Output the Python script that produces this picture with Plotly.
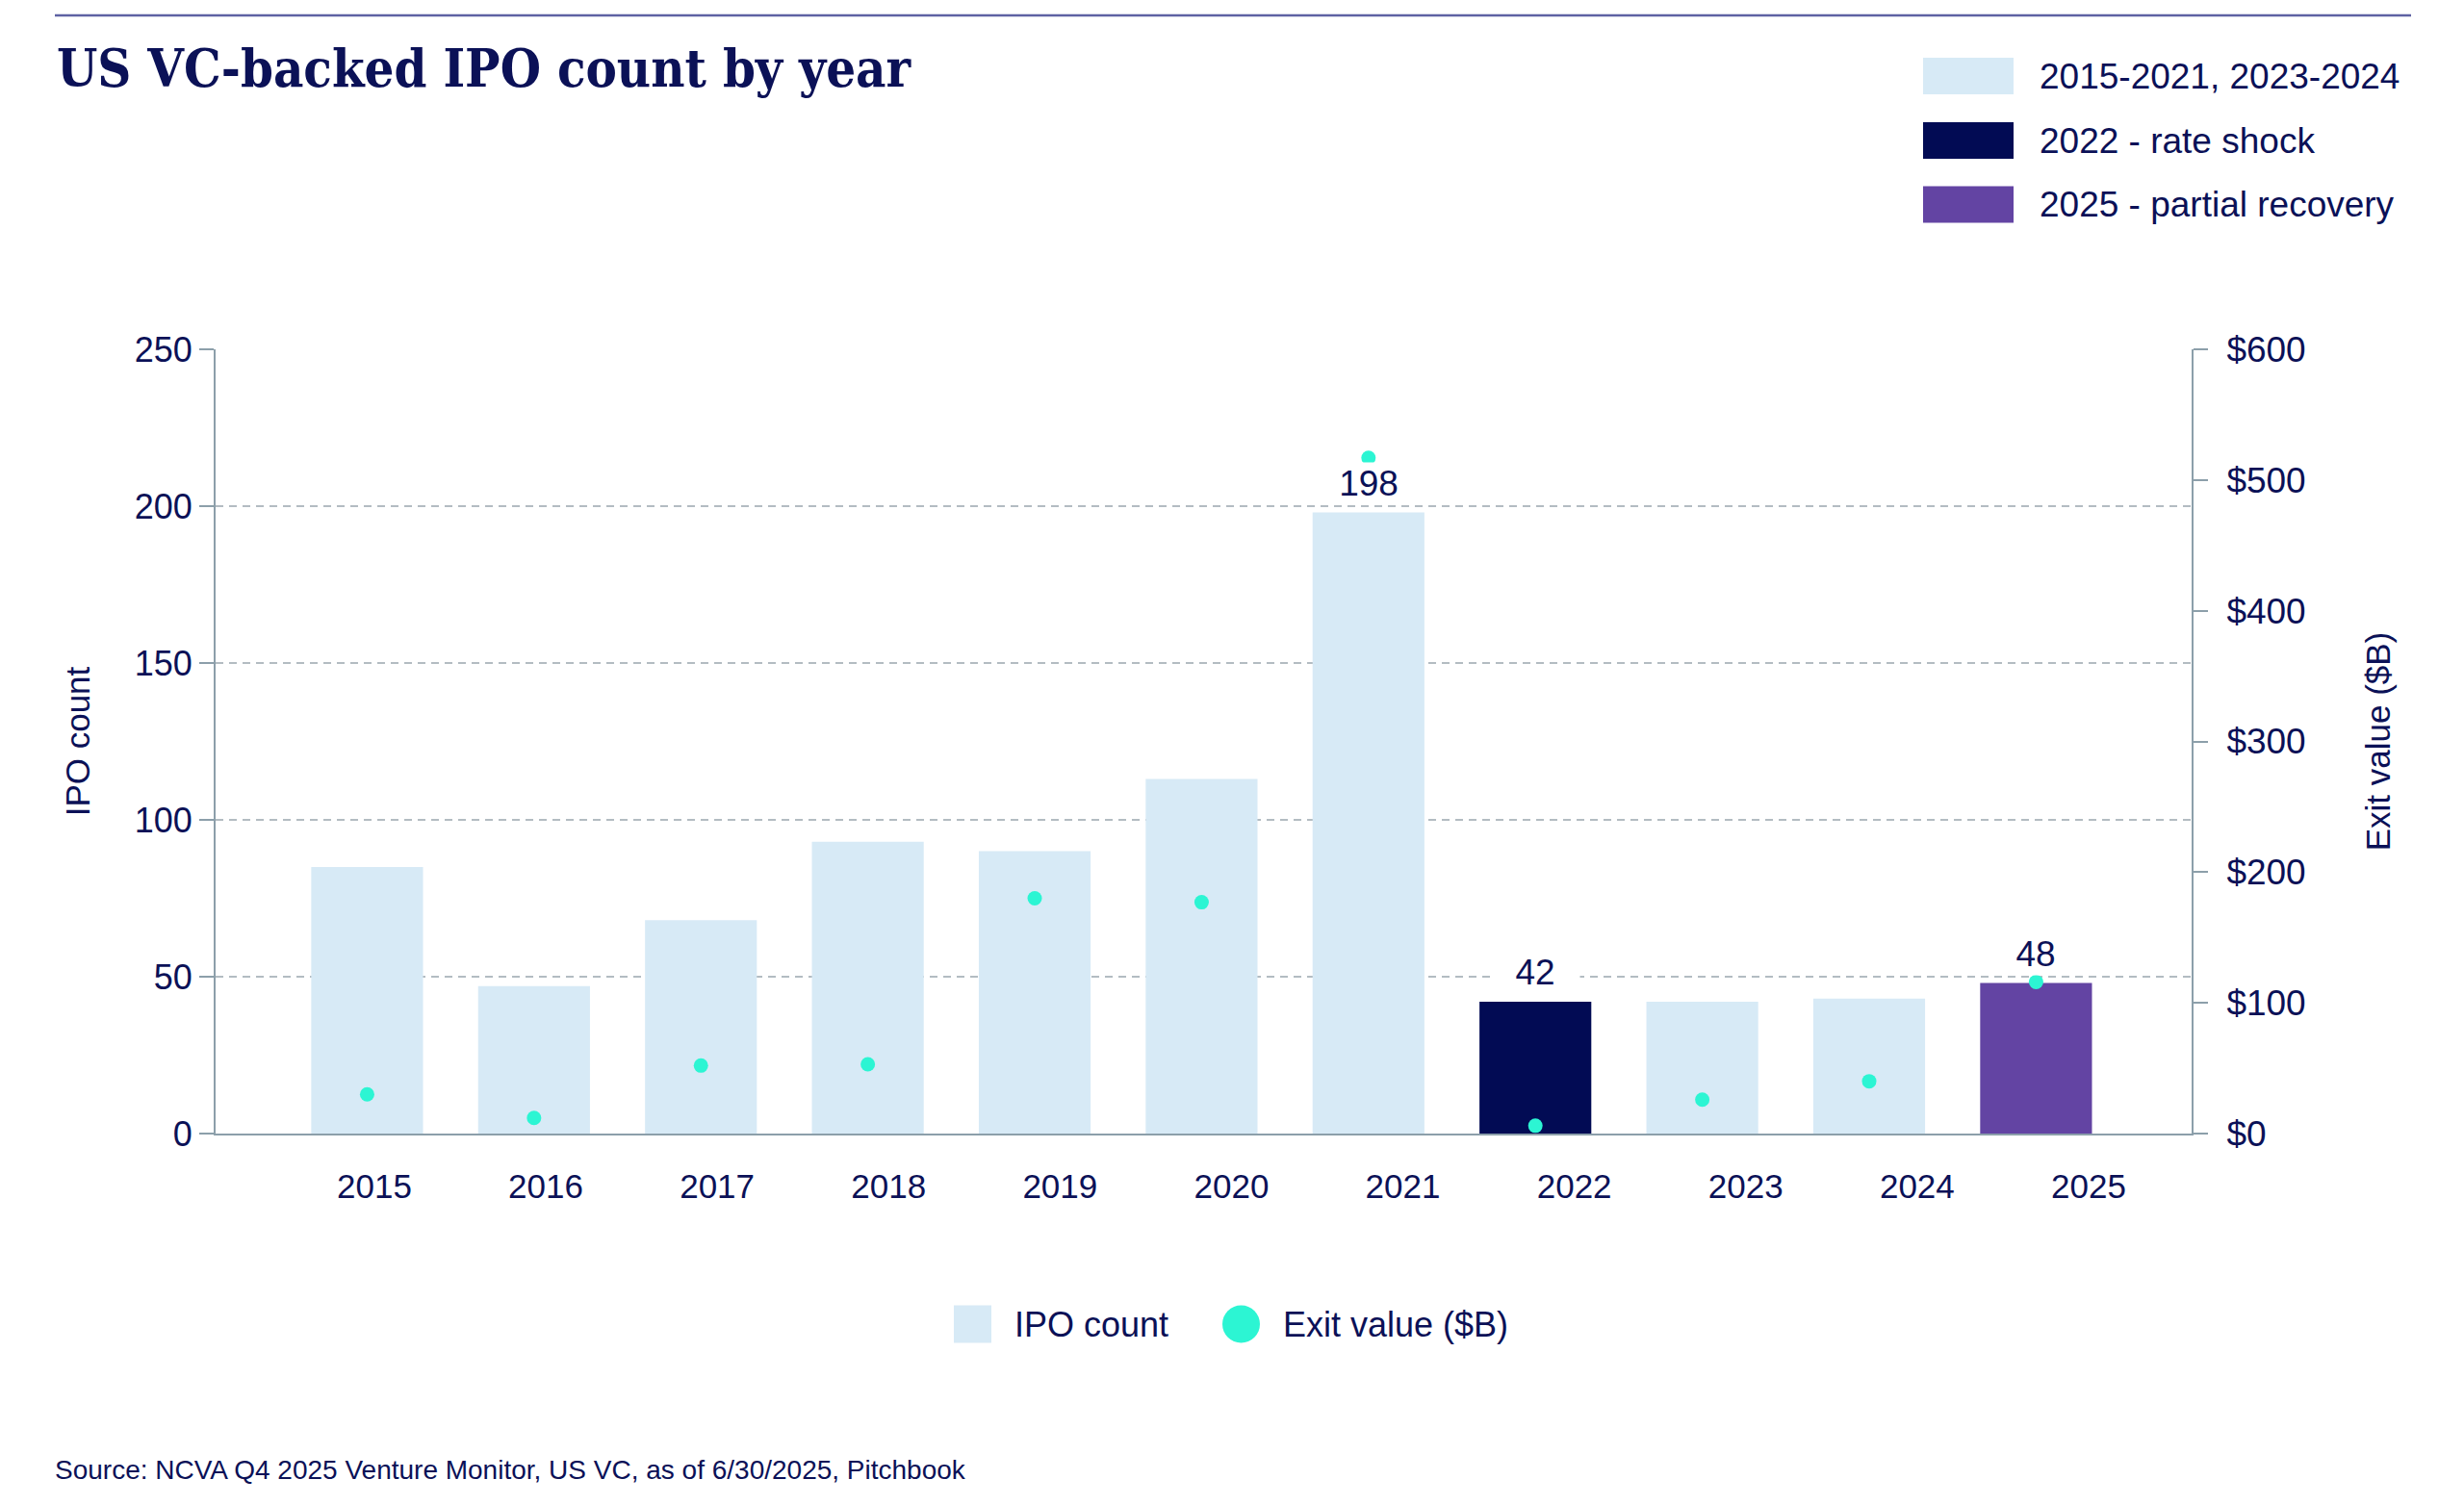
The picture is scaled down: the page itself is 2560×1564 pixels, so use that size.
import plotly.graph_objects as go

# ---------------- data ----------------
years = ["2015", "2016", "2017", "2018", "2019", "2020", "2021", "2022", "2023", "2024", "2025"]
ipo_count = [85, 47, 68, 93, 90, 113, 198, 42, 42, 43, 48]
exit_value = [30, 12, 52, 53, 180, 177, 517, 6, 26, 40, 116]
year_group = [0, 0, 0, 0, 0, 0, 0, 1, 0, 0, 2]
group_labels = ["2015-2021, 2023-2024", "2022 - rate shock", "2025 - partial recovery"]
label_years = ["2021", "2022", "2025"]
left_ticks = [0, 50, 100, 150, 200, 250]
right_ticks = [0, 100, 200, 300, 400, 500, 600]
right_tick_text = ["$" + str(v) for v in right_ticks]

# ---------------- style ----------------
group_colors = ["#D7EAF6", "#020B54", "#6344A3"]
DOT = "#2CF5D3"
TEXT = "#0B1157"
AXIS = "#8C9FAA"
GRID = "#B3BCC2"
FONT = "Liberation Sans, Arial, sans-serif"
TITLE_FONT = "DejaVu Serif Condensed, DejaVu Serif, serif"

PAGE_W, PAGE_H = 2560, 1564
OFF = 8                      # default page body margin
FW, FH = PAGE_W - 2 * OFF, PAGE_H - 2 * OFF
PL, PR, PT, PB = 224, 2277, 363, 1178   # plot area in page pixels


def fx(px):
    return (px - PL) / (PR - PL)


def fy(py):
    return (PB - py) / (PB - PT)


n = len(years)
fig = go.Figure()
fig.add_trace(go.Bar(
    x=years, y=ipo_count, name="IPO count",
    marker=dict(color=[group_colors[g] for g in year_group], line=dict(width=0)),
    showlegend=False, xaxis="x", yaxis="y", hoverinfo="x+y",
))
fig.add_trace(go.Scatter(
    x=years, y=exit_value, name="Exit value ($B)", mode="markers",
    marker=dict(size=15, color=DOT, line=dict(width=0)),
    showlegend=False, xaxis="x", yaxis="y2",
))
# carrier for the year label axis
fig.add_trace(go.Scatter(
    x=list(range(n)), y=[None] * n, mode="markers", showlegend=False,
    hoverinfo="skip", xaxis="x2", yaxis="y",
))

annotations = []
for yr in label_years:
    i = years.index(yr)
    annotations.append(dict(
        x=i, y=ipo_count[i], xref="x", yref="y", text=str(ipo_count[i]),
        showarrow=False, yanchor="bottom", yshift=8, width=90,
        bgcolor="white", font=dict(family=FONT, size=37, color=TEXT),
    ))

# title
annotations.append(dict(
    x=fx(57), y=fy(71), xref="paper", yref="paper", xanchor="left", yanchor="middle",
    text="US VC-backed IPO count by year", showarrow=False,
    font=dict(family=TITLE_FONT, size=54, color=TEXT, weight="bold"),
))
# source
annotations.append(dict(
    x=fx(55), y=fy(1527), xref="paper", yref="paper", xanchor="left", yanchor="middle",
    text="Source: NCVA Q4 2025 Venture Monitor, US VC, as of 6/30/2025, Pitchbook",
    showarrow=False, font=dict(family=FONT, size=28, color=TEXT),
))

shapes = [dict(type="line", xref="paper", yref="paper", x0=fx(57), x1=fx(2505),
               y0=fy(16), y1=fy(16), line=dict(color="#5E62A3", width=2.5))]

# top-right group legend
row_centers = [79, 146, 212.5]
for k, lab in enumerate(group_labels):
    cy = row_centers[k]
    shapes.append(dict(type="rect", xref="paper", yref="paper",
                       x0=fx(1998), x1=fx(2092), y0=fy(cy - 19), y1=fy(cy + 19),
                       fillcolor=group_colors[k], line=dict(width=0)))
    annotations.append(dict(x=fx(2117), y=fy(cy), xref="paper", yref="paper",
                            xanchor="left", yanchor="middle", text=lab, showarrow=False,
                            font=dict(family=FONT, size=37, color=TEXT)))

# bottom series legend
ly = 1376
shapes.append(dict(type="rect", xref="paper", yref="paper", x0=fx(991), x1=fx(1030),
                   y0=fy(ly - 19.5), y1=fy(ly + 19.5), fillcolor=group_colors[0], line=dict(width=0)))
annotations.append(dict(x=fx(1052), y=fy(ly), xref="paper", yref="paper", xanchor="left",
                        yanchor="middle", text="IPO count", showarrow=False,
                        font=dict(family=FONT, size=36, color=TEXT)))
shapes.append(dict(type="circle", xref="paper", yref="paper", x0=fx(1270), x1=fx(1309),
                   y0=fy(ly - 19.5), y1=fy(ly + 19.5), fillcolor=DOT, line=dict(width=0)))
annotations.append(dict(x=fx(1331), y=fy(ly), xref="paper", yref="paper", xanchor="left",
                        yanchor="middle", text="Exit value ($B)", showarrow=False,
                        font=dict(family=FONT, size=36, color=TEXT)))

fig.update_layout(
    width=FW, height=FH,
    margin=dict(l=PL - OFF, r=OFF + FW - PR, t=PT - OFF, b=OFF + FH - PB, pad=0),
    paper_bgcolor="white", plot_bgcolor="white",
    font=dict(family=FONT, color=TEXT),
    bargap=0.33, showlegend=False,
    xaxis=dict(type="category", categoryorder="array", categoryarray=years,
               range=[-0.908, 10.932], showticklabels=False, ticks="",
               showline=True, linecolor=AXIS, linewidth=2, showgrid=False, zeroline=False),
    xaxis2=dict(overlaying="x", anchor="y", side="bottom", type="linear",
                range=[-0.926, 10.601], tickmode="array", tickvals=list(range(n)),
                ticktext=years, showline=False, showgrid=False, zeroline=False, ticks="",
                tickfont=dict(family=FONT, size=35, color=TEXT), ticklabelstandoff=31),
    yaxis=dict(range=[0, 250], tickmode="array", tickvals=left_ticks,
               showline=True, linecolor=AXIS, linewidth=2,
               ticks="outside", ticklen=15, tickwidth=2, tickcolor=AXIS,
               showgrid=True, gridcolor=GRID, gridwidth=1.5, griddash="8px,6px",
               zeroline=False, tickfont=dict(family=FONT, size=36, color=TEXT),
               title=dict(text="IPO count", standoff=35, font=dict(family=FONT, size=35, color=TEXT))),
    yaxis2=dict(overlaying="y", side="right", range=[0, 600], tickmode="array",
                tickvals=right_ticks, ticktext=right_tick_text,
                showline=True, linecolor=AXIS, linewidth=2,
                ticks="outside", ticklen=15, tickwidth=2, tickcolor=AXIS,
                showgrid=False, zeroline=False, ticklabelstandoff=12,
                tickfont=dict(family=FONT, size=37, color=TEXT),
                title=dict(text="Exit value ($B)", standoff=64, font=dict(family=FONT, size=35, color=TEXT))),
    annotations=annotations, shapes=shapes,
)

fig.write_html("out.html")
